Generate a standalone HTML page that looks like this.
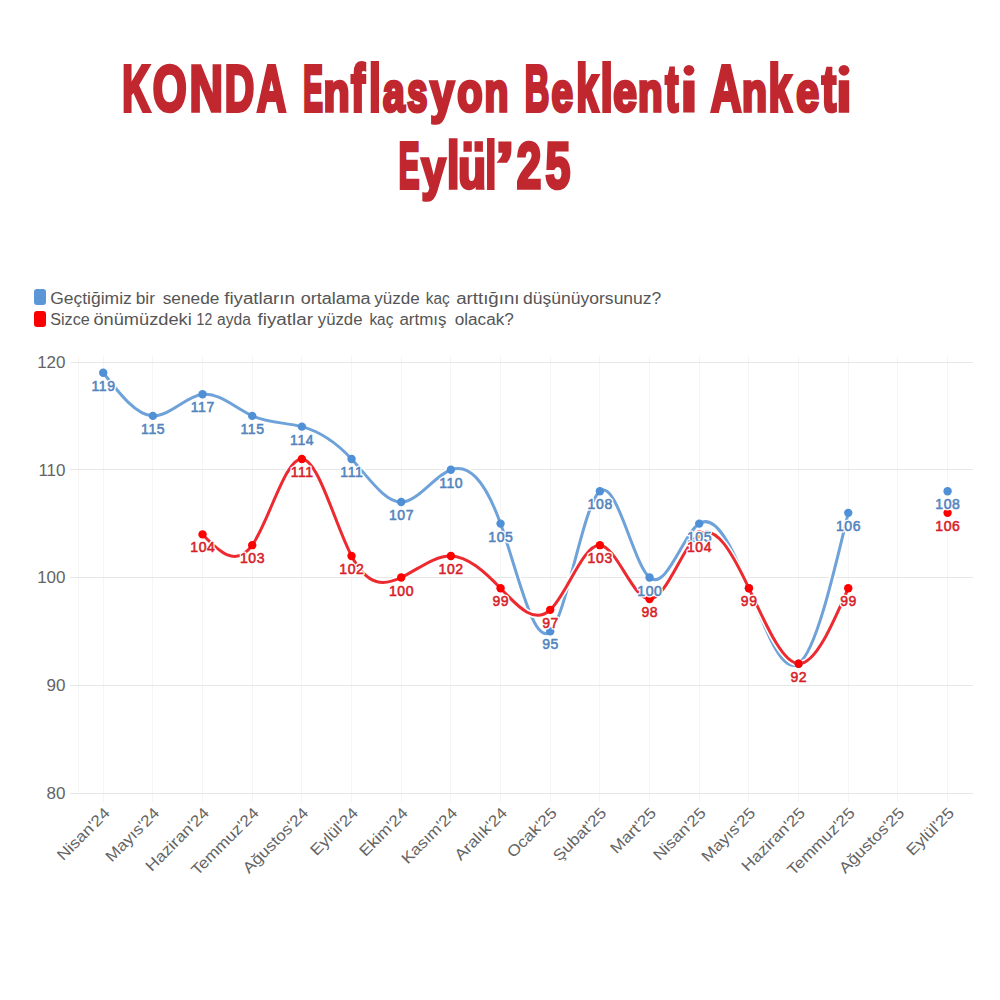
<!DOCTYPE html>
<html><head><meta charset="utf-8"><style>
html,body{margin:0;padding:0;background:#fff;width:1000px;height:1000px;overflow:hidden}
body{position:relative;font-family:"Liberation Sans",sans-serif}
.ttl{font-size:64px;font-weight:bold;fill:#c0272f;stroke:#c0272f;stroke-width:3.2px;stroke-linejoin:miter;vector-effect:non-scaling-stroke}
.leg{font-size:16px;fill:#555}
.sq{position:absolute;left:34.2px;width:11.8px;height:15.5px;border-radius:3px}
svg{position:absolute;left:0;top:0}
.ylab{font-size:17px;fill:#646464;text-anchor:end}
.xlab{font-size:15.5px;fill:#646464;text-anchor:end}
.dl{font-size:14px;font-weight:normal;text-anchor:middle;stroke-width:0.55px;letter-spacing:0.6px}
.dlh{fill:#fff;stroke:#fff;stroke-width:3.2px;stroke-linejoin:round}
</style></head><body>
<div class="sq" style="top:289px;background:#5b97d6"></div>
<div class="sq" style="top:311px;height:16px;background:#fb0000"></div>
<svg width="1000" height="1000" viewBox="0 0 1000 1000">
<text class="ttl" transform="translate(122.26,110.60) scale(0.6014,1.0000)">K</text>
<text class="ttl" transform="translate(152.84,110.60) scale(0.6824,1.0000)">O</text>
<text class="ttl" transform="translate(189.52,110.60) scale(0.7247,1.0000)">N</text>
<text class="ttl" transform="translate(224.83,110.60) scale(0.6372,1.0000)">D</text>
<text class="ttl" transform="translate(257.08,110.60) scale(0.6280,1.0000)">A</text>
<text class="ttl" transform="translate(303.15,110.60) scale(0.4606,1.0000)">E</text>
<text class="ttl" transform="translate(323.38,110.60) scale(0.6690,0.8700)">n</text>
<text class="ttl" transform="translate(351.09,110.60) scale(0.6541,1.0300)">f</text>
<text class="ttl" transform="translate(368.88,110.60) scale(0.6622,1.0300)">l</text>
<text class="ttl" transform="translate(382.96,110.60) scale(0.6096,0.8700)">a</text>
<text class="ttl" transform="translate(407.18,110.60) scale(0.5663,0.8700)">s</text>
<text class="ttl" transform="translate(430.24,110.60) scale(0.6719,0.8700)">y</text>
<text class="ttl" transform="translate(457.36,110.60) scale(0.6479,0.8700)">o</text>
<text class="ttl" transform="translate(484.43,110.60) scale(0.6104,0.8700)">n</text>
<text class="ttl" transform="translate(524.86,110.60) scale(0.5313,1.0000)">B</text>
<text class="ttl" transform="translate(551.53,110.60) scale(0.6041,0.8700)">e</text>
<text class="ttl" transform="translate(576.24,110.60) scale(0.6215,1.0300)">k</text>
<text class="ttl" transform="translate(600.59,110.60) scale(0.6921,1.0300)">l</text>
<text class="ttl" transform="translate(613.21,110.60) scale(0.6630,0.8700)">e</text>
<text class="ttl" transform="translate(637.96,110.60) scale(0.6303,0.8700)">n</text>
<text class="ttl" transform="translate(665.15,110.60) scale(0.6151,1.0000)">t</text>
<text class="ttl" transform="translate(680.81,110.60) scale(0.9149,0.8700)">ı</text>
<circle cx="688.95" cy="70.30" r="5.4" fill="#c0272f"/>
<text class="ttl" transform="translate(710.79,110.60) scale(0.6625,1.0000)">A</text>
<text class="ttl" transform="translate(742.05,110.60) scale(0.6413,0.8700)">n</text>
<text class="ttl" transform="translate(768.49,110.60) scale(0.6467,1.0300)">k</text>
<text class="ttl" transform="translate(796.27,110.60) scale(0.6413,0.8700)">e</text>
<text class="ttl" transform="translate(821.72,110.60) scale(0.6767,1.0000)">t</text>
<text class="ttl" transform="translate(836.60,110.60) scale(0.8345,0.8700)">ı</text>
<circle cx="844.00" cy="70.30" r="5.4" fill="#c0272f"/>
<text class="ttl" transform="translate(398.79,188.00) scale(0.4849,1.0000)">E</text>
<text class="ttl" transform="translate(421.40,188.00) scale(0.6756,0.8700)">y</text>
<text class="ttl" transform="translate(446.90,188.00) scale(0.6968,1.0300)">l</text>
<text class="ttl" transform="translate(458.30,188.00) scale(0.7083,0.8700)">u</text>
<text class="ttl" transform="translate(464.60,188.00) scale(0.8146,1)">¨</text>
<text class="ttl" transform="translate(485.41,188.00) scale(0.5954,1.0300)">l</text>
<text class="ttl" transform="translate(495.26,188.00) scale(1.0773,1.0000)">’</text>
<text class="ttl" transform="translate(516.87,188.00) scale(0.6887,1.0000)">2</text>
<text class="ttl" transform="translate(545.62,188.00) scale(0.6968,1.0000)">5</text>
<text x="50.20" y="303.50" class="leg" textLength="81.60" lengthAdjust="spacingAndGlyphs">Geçtiğimiz</text>
<text x="135.70" y="303.50" class="leg" textLength="19.20" lengthAdjust="spacingAndGlyphs">bir</text>
<text x="162.70" y="303.50" class="leg" textLength="56.70" lengthAdjust="spacingAndGlyphs">senede</text>
<text x="224.20" y="303.50" class="leg" textLength="70.80" lengthAdjust="spacingAndGlyphs">fiyatların</text>
<text x="300.70" y="303.50" class="leg" textLength="69.90" lengthAdjust="spacingAndGlyphs">ortalama</text>
<text x="374.20" y="303.50" class="leg" textLength="45.60" lengthAdjust="spacingAndGlyphs">yüzde</text>
<text x="425.80" y="303.50" class="leg" textLength="24.00" lengthAdjust="spacingAndGlyphs">kaç</text>
<text x="456.20" y="303.50" class="leg" textLength="63.30" lengthAdjust="spacingAndGlyphs">arttığını</text>
<text x="523.10" y="303.50" class="leg" textLength="138.25" lengthAdjust="spacingAndGlyphs">düşünüyorsunuz?</text>
<text x="50.20" y="325.00" class="leg" textLength="39.60" lengthAdjust="spacingAndGlyphs">Sizce</text>
<text x="93.40" y="325.00" class="leg" textLength="98.40" lengthAdjust="spacingAndGlyphs">önümüzdeki</text>
<text x="196.60" y="325.00" class="leg" textLength="15.60" lengthAdjust="spacingAndGlyphs">12</text>
<text x="217.00" y="325.00" class="leg" textLength="33.90" lengthAdjust="spacingAndGlyphs">ayda</text>
<text x="257.50" y="325.00" class="leg" textLength="55.50" lengthAdjust="spacingAndGlyphs">fiyatlar</text>
<text x="317.80" y="325.00" class="leg" textLength="44.70" lengthAdjust="spacingAndGlyphs">yüzde</text>
<text x="369.40" y="325.00" class="leg" textLength="24.00" lengthAdjust="spacingAndGlyphs">kaç</text>
<text x="399.40" y="325.00" class="leg" textLength="47.10" lengthAdjust="spacingAndGlyphs">artmış</text>
<text x="454.70" y="325.00" class="leg" textLength="59.10" lengthAdjust="spacingAndGlyphs">olacak?</text>
<line x1="103.50" y1="356" x2="103.50" y2="802" stroke="#f5f5f5" stroke-width="1"/>
<line x1="152.50" y1="356" x2="152.50" y2="802" stroke="#f5f5f5" stroke-width="1"/>
<line x1="202.50" y1="356" x2="202.50" y2="802" stroke="#f5f5f5" stroke-width="1"/>
<line x1="252.50" y1="356" x2="252.50" y2="802" stroke="#f5f5f5" stroke-width="1"/>
<line x1="301.50" y1="356" x2="301.50" y2="802" stroke="#f5f5f5" stroke-width="1"/>
<line x1="351.50" y1="356" x2="351.50" y2="802" stroke="#f5f5f5" stroke-width="1"/>
<line x1="401.50" y1="356" x2="401.50" y2="802" stroke="#f5f5f5" stroke-width="1"/>
<line x1="450.50" y1="356" x2="450.50" y2="802" stroke="#f5f5f5" stroke-width="1"/>
<line x1="500.50" y1="356" x2="500.50" y2="802" stroke="#f5f5f5" stroke-width="1"/>
<line x1="550.50" y1="356" x2="550.50" y2="802" stroke="#f5f5f5" stroke-width="1"/>
<line x1="599.50" y1="356" x2="599.50" y2="802" stroke="#f5f5f5" stroke-width="1"/>
<line x1="649.50" y1="356" x2="649.50" y2="802" stroke="#f5f5f5" stroke-width="1"/>
<line x1="699.50" y1="356" x2="699.50" y2="802" stroke="#f5f5f5" stroke-width="1"/>
<line x1="748.50" y1="356" x2="748.50" y2="802" stroke="#f5f5f5" stroke-width="1"/>
<line x1="798.50" y1="356" x2="798.50" y2="802" stroke="#f5f5f5" stroke-width="1"/>
<line x1="848.50" y1="356" x2="848.50" y2="802" stroke="#f5f5f5" stroke-width="1"/>
<line x1="897.50" y1="356" x2="897.50" y2="802" stroke="#f5f5f5" stroke-width="1"/>
<line x1="947.50" y1="356" x2="947.50" y2="802" stroke="#f5f5f5" stroke-width="1"/>
<line x1="78.5" y1="356" x2="78.5" y2="793" stroke="#f5f5f5" stroke-width="1"/>
<line x1="70" y1="362.50" x2="973" y2="362.50" stroke="#e7e7e7" stroke-width="1"/>
<text x="65.5" y="367.80" class="ylab">120</text>
<line x1="70" y1="469.50" x2="973" y2="469.50" stroke="#e7e7e7" stroke-width="1"/>
<text x="65.5" y="475.55" class="ylab">110</text>
<line x1="70" y1="577.50" x2="973" y2="577.50" stroke="#e7e7e7" stroke-width="1"/>
<text x="65.5" y="583.30" class="ylab">100</text>
<line x1="70" y1="685.50" x2="973" y2="685.50" stroke="#e7e7e7" stroke-width="1"/>
<text x="65.5" y="691.05" class="ylab">90</text>
<line x1="70" y1="793.50" x2="973" y2="793.50" stroke="#e7e7e7" stroke-width="1"/>
<text x="65.5" y="798.80" class="ylab">80</text>
<text class="xlab" transform="translate(110.70,814) rotate(-45) scale(1.12,1)">Nisan'24</text>
<text class="xlab" transform="translate(160.37,814) rotate(-45) scale(1.12,1)">Mayıs'24</text>
<text class="xlab" transform="translate(210.04,814) rotate(-45) scale(1.12,1)">Haziran'24</text>
<text class="xlab" transform="translate(259.71,814) rotate(-45) scale(1.12,1)">Temmuz'24</text>
<text class="xlab" transform="translate(309.38,814) rotate(-45) scale(1.12,1)">Ağustos'24</text>
<text class="xlab" transform="translate(359.05,814) rotate(-45) scale(1.12,1)">Eylül'24</text>
<text class="xlab" transform="translate(408.72,814) rotate(-45) scale(1.12,1)">Ekim'24</text>
<text class="xlab" transform="translate(458.39,814) rotate(-45) scale(1.12,1)">Kasım'24</text>
<text class="xlab" transform="translate(508.06,814) rotate(-45) scale(1.12,1)">Aralık'24</text>
<text class="xlab" transform="translate(557.73,814) rotate(-45) scale(1.12,1)">Ocak'25</text>
<text class="xlab" transform="translate(607.40,814) rotate(-45) scale(1.12,1)">Şubat'25</text>
<text class="xlab" transform="translate(657.07,814) rotate(-45) scale(1.12,1)">Mart'25</text>
<text class="xlab" transform="translate(706.74,814) rotate(-45) scale(1.12,1)">Nisan'25</text>
<text class="xlab" transform="translate(756.41,814) rotate(-45) scale(1.12,1)">Mayıs'25</text>
<text class="xlab" transform="translate(806.08,814) rotate(-45) scale(1.12,1)">Haziran'25</text>
<text class="xlab" transform="translate(855.75,814) rotate(-45) scale(1.12,1)">Temmuz'25</text>
<text class="xlab" transform="translate(905.42,814) rotate(-45) scale(1.12,1)">Ağustos'25</text>
<text class="xlab" transform="translate(955.09,814) rotate(-45) scale(1.12,1)">Eylül'25</text>
<path d="M103.20,372.77 C119.76,394.04 136.31,415.30 152.87,415.88 C169.43,416.45 185.98,396.34 202.54,394.32 C219.10,392.31 235.65,408.41 252.21,415.88 C268.77,423.34 285.32,422.19 301.88,426.65 C318.44,431.11 334.99,441.17 351.55,458.98 C368.11,476.78 384.66,502.32 401.22,502.07 C417.78,501.83 434.33,475.80 450.89,469.75 C467.45,463.70 484.00,477.61 500.56,523.62 C517.12,569.64 533.67,647.74 550.23,631.38 C566.79,615.01 583.34,504.19 599.90,491.30 C616.46,478.41 633.01,563.45 649.57,577.50 C666.13,591.55 682.68,534.61 699.24,523.62 C715.80,512.64 732.35,547.60 748.91,588.27 C765.47,628.95 782.02,675.32 798.58,663.70 C815.14,652.08 831.69,582.46 848.25,512.85" fill="none" stroke="#fff" stroke-width="6.2" stroke-linecap="round"/>
<path d="M103.20,372.77 C119.76,394.04 136.31,415.30 152.87,415.88 C169.43,416.45 185.98,396.34 202.54,394.32 C219.10,392.31 235.65,408.41 252.21,415.88 C268.77,423.34 285.32,422.19 301.88,426.65 C318.44,431.11 334.99,441.17 351.55,458.98 C368.11,476.78 384.66,502.32 401.22,502.07 C417.78,501.83 434.33,475.80 450.89,469.75 C467.45,463.70 484.00,477.61 500.56,523.62 C517.12,569.64 533.67,647.74 550.23,631.38 C566.79,615.01 583.34,504.19 599.90,491.30 C616.46,478.41 633.01,563.45 649.57,577.50 C666.13,591.55 682.68,534.61 699.24,523.62 C715.80,512.64 732.35,547.60 748.91,588.27 C765.47,628.95 782.02,675.32 798.58,663.70 C815.14,652.08 831.69,582.46 848.25,512.85" fill="none" stroke="#6ea2d8" stroke-width="3" stroke-linecap="round"/>
<path d="M202.54,534.40 C219.10,551.42 235.65,568.45 252.21,545.17 C268.77,521.90 285.32,458.33 301.88,458.98 C318.44,459.62 334.99,524.49 351.55,555.95 C368.11,587.41 384.66,585.46 401.22,577.50 C417.78,569.54 434.33,555.57 450.89,555.95 C467.45,556.33 484.00,571.06 500.56,588.27 C517.12,605.49 533.67,625.20 550.23,609.83 C566.79,594.45 583.34,543.99 599.90,545.17 C616.46,546.36 633.01,599.19 649.57,599.05 C666.13,598.91 682.68,545.80 699.24,534.40 C715.80,523.00 732.35,553.29 748.91,588.27 C765.47,623.26 782.02,662.92 798.58,663.70 C815.14,664.48 831.69,626.38 848.25,588.27" fill="none" stroke="#fff" stroke-width="6.2" stroke-linecap="round"/>
<path d="M202.54,534.40 C219.10,551.42 235.65,568.45 252.21,545.17 C268.77,521.90 285.32,458.33 301.88,458.98 C318.44,459.62 334.99,524.49 351.55,555.95 C368.11,587.41 384.66,585.46 401.22,577.50 C417.78,569.54 434.33,555.57 450.89,555.95 C467.45,556.33 484.00,571.06 500.56,588.27 C517.12,605.49 533.67,625.20 550.23,609.83 C566.79,594.45 583.34,543.99 599.90,545.17 C616.46,546.36 633.01,599.19 649.57,599.05 C666.13,598.91 682.68,545.80 699.24,534.40 C715.80,523.00 732.35,553.29 748.91,588.27 C765.47,623.26 782.02,662.92 798.58,663.70 C815.14,664.48 831.69,626.38 848.25,588.27" fill="none" stroke="#ec2a30" stroke-width="3" stroke-linecap="round"/>
<circle cx="103.20" cy="372.77" r="4.2" fill="#4f90d6"/>
<circle cx="152.87" cy="415.88" r="4.2" fill="#4f90d6"/>
<circle cx="202.54" cy="394.32" r="4.2" fill="#4f90d6"/>
<circle cx="252.21" cy="415.88" r="4.2" fill="#4f90d6"/>
<circle cx="301.88" cy="426.65" r="4.2" fill="#4f90d6"/>
<circle cx="351.55" cy="458.98" r="4.2" fill="#4f90d6"/>
<circle cx="401.22" cy="502.07" r="4.2" fill="#4f90d6"/>
<circle cx="450.89" cy="469.75" r="4.2" fill="#4f90d6"/>
<circle cx="500.56" cy="523.62" r="4.2" fill="#4f90d6"/>
<circle cx="550.23" cy="631.38" r="4.2" fill="#4f90d6"/>
<circle cx="599.90" cy="491.30" r="4.2" fill="#4f90d6"/>
<circle cx="649.57" cy="577.50" r="4.2" fill="#4f90d6"/>
<circle cx="699.24" cy="523.62" r="4.2" fill="#4f90d6"/>
<circle cx="748.91" cy="588.27" r="4.2" fill="#4f90d6"/>
<circle cx="798.58" cy="663.70" r="4.2" fill="#4f90d6"/>
<circle cx="848.25" cy="512.85" r="4.2" fill="#4f90d6"/>
<circle cx="947.59" cy="491.30" r="4.2" fill="#4f90d6"/>
<circle cx="202.54" cy="534.40" r="4.2" fill="#ff0000"/>
<circle cx="252.21" cy="545.17" r="4.2" fill="#ff0000"/>
<circle cx="301.88" cy="458.98" r="4.2" fill="#ff0000"/>
<circle cx="351.55" cy="555.95" r="4.2" fill="#ff0000"/>
<circle cx="401.22" cy="577.50" r="4.2" fill="#ff0000"/>
<circle cx="450.89" cy="555.95" r="4.2" fill="#ff0000"/>
<circle cx="500.56" cy="588.27" r="4.2" fill="#ff0000"/>
<circle cx="550.23" cy="609.83" r="4.2" fill="#ff0000"/>
<circle cx="599.90" cy="545.17" r="4.2" fill="#ff0000"/>
<circle cx="649.57" cy="599.05" r="4.2" fill="#ff0000"/>
<circle cx="699.24" cy="534.40" r="4.2" fill="#ff0000"/>
<circle cx="748.91" cy="588.27" r="4.2" fill="#ff0000"/>
<circle cx="798.58" cy="663.70" r="4.2" fill="#ff0000"/>
<circle cx="848.25" cy="588.27" r="4.2" fill="#ff0000"/>
<circle cx="947.59" cy="512.85" r="4.2" fill="#ff0000"/>
<text x="103.50" y="390.77" class="dl dlh">119</text>
<text x="103.50" y="390.77" class="dl" fill="#5384bd" stroke="#5384bd">119</text>
<text x="153.17" y="433.88" class="dl dlh">115</text>
<text x="153.17" y="433.88" class="dl" fill="#5384bd" stroke="#5384bd">115</text>
<text x="202.84" y="412.32" class="dl dlh">117</text>
<text x="202.84" y="412.32" class="dl" fill="#5384bd" stroke="#5384bd">117</text>
<text x="252.51" y="433.88" class="dl dlh">115</text>
<text x="252.51" y="433.88" class="dl" fill="#5384bd" stroke="#5384bd">115</text>
<text x="302.18" y="444.65" class="dl dlh">114</text>
<text x="302.18" y="444.65" class="dl" fill="#5384bd" stroke="#5384bd">114</text>
<text x="351.85" y="476.98" class="dl dlh">111</text>
<text x="351.85" y="476.98" class="dl" fill="#5384bd" stroke="#5384bd">111</text>
<text x="401.52" y="520.08" class="dl dlh">107</text>
<text x="401.52" y="520.08" class="dl" fill="#5384bd" stroke="#5384bd">107</text>
<text x="451.19" y="487.75" class="dl dlh">110</text>
<text x="451.19" y="487.75" class="dl" fill="#5384bd" stroke="#5384bd">110</text>
<text x="500.86" y="541.62" class="dl dlh">105</text>
<text x="500.86" y="541.62" class="dl" fill="#5384bd" stroke="#5384bd">105</text>
<text x="550.53" y="649.38" class="dl dlh">95</text>
<text x="550.53" y="649.38" class="dl" fill="#5384bd" stroke="#5384bd">95</text>
<text x="600.20" y="509.30" class="dl dlh">108</text>
<text x="600.20" y="509.30" class="dl" fill="#5384bd" stroke="#5384bd">108</text>
<text x="649.87" y="595.50" class="dl dlh">100</text>
<text x="649.87" y="595.50" class="dl" fill="#5384bd" stroke="#5384bd">100</text>
<text x="699.54" y="541.62" class="dl dlh">105</text>
<text x="699.54" y="541.62" class="dl" fill="#5384bd" stroke="#5384bd">105</text>
<text x="848.55" y="530.85" class="dl dlh">106</text>
<text x="848.55" y="530.85" class="dl" fill="#5384bd" stroke="#5384bd">106</text>
<text x="947.89" y="509.30" class="dl dlh">108</text>
<text x="947.89" y="509.30" class="dl" fill="#5384bd" stroke="#5384bd">108</text>
<text x="202.84" y="552.40" class="dl dlh">104</text>
<text x="202.84" y="552.40" class="dl" fill="#d81e28" stroke="#d81e28">104</text>
<text x="252.51" y="563.17" class="dl dlh">103</text>
<text x="252.51" y="563.17" class="dl" fill="#d81e28" stroke="#d81e28">103</text>
<text x="302.18" y="476.98" class="dl dlh">111</text>
<text x="302.18" y="476.98" class="dl" fill="#d81e28" stroke="#d81e28">111</text>
<text x="351.85" y="573.95" class="dl dlh">102</text>
<text x="351.85" y="573.95" class="dl" fill="#d81e28" stroke="#d81e28">102</text>
<text x="401.52" y="595.50" class="dl dlh">100</text>
<text x="401.52" y="595.50" class="dl" fill="#d81e28" stroke="#d81e28">100</text>
<text x="451.19" y="573.95" class="dl dlh">102</text>
<text x="451.19" y="573.95" class="dl" fill="#d81e28" stroke="#d81e28">102</text>
<text x="500.86" y="606.27" class="dl dlh">99</text>
<text x="500.86" y="606.27" class="dl" fill="#d81e28" stroke="#d81e28">99</text>
<text x="550.53" y="627.83" class="dl dlh">97</text>
<text x="550.53" y="627.83" class="dl" fill="#d81e28" stroke="#d81e28">97</text>
<text x="600.20" y="563.17" class="dl dlh">103</text>
<text x="600.20" y="563.17" class="dl" fill="#d81e28" stroke="#d81e28">103</text>
<text x="649.87" y="617.05" class="dl dlh">98</text>
<text x="649.87" y="617.05" class="dl" fill="#d81e28" stroke="#d81e28">98</text>
<text x="699.54" y="552.40" class="dl dlh">104</text>
<text x="699.54" y="552.40" class="dl" fill="#d81e28" stroke="#d81e28">104</text>
<text x="749.21" y="606.27" class="dl dlh">99</text>
<text x="749.21" y="606.27" class="dl" fill="#d81e28" stroke="#d81e28">99</text>
<text x="798.88" y="681.70" class="dl dlh">92</text>
<text x="798.88" y="681.70" class="dl" fill="#d81e28" stroke="#d81e28">92</text>
<text x="848.55" y="606.27" class="dl dlh">99</text>
<text x="848.55" y="606.27" class="dl" fill="#d81e28" stroke="#d81e28">99</text>
<text x="947.89" y="530.85" class="dl dlh">106</text>
<text x="947.89" y="530.85" class="dl" fill="#d81e28" stroke="#d81e28">106</text>
</svg>
</body></html>
